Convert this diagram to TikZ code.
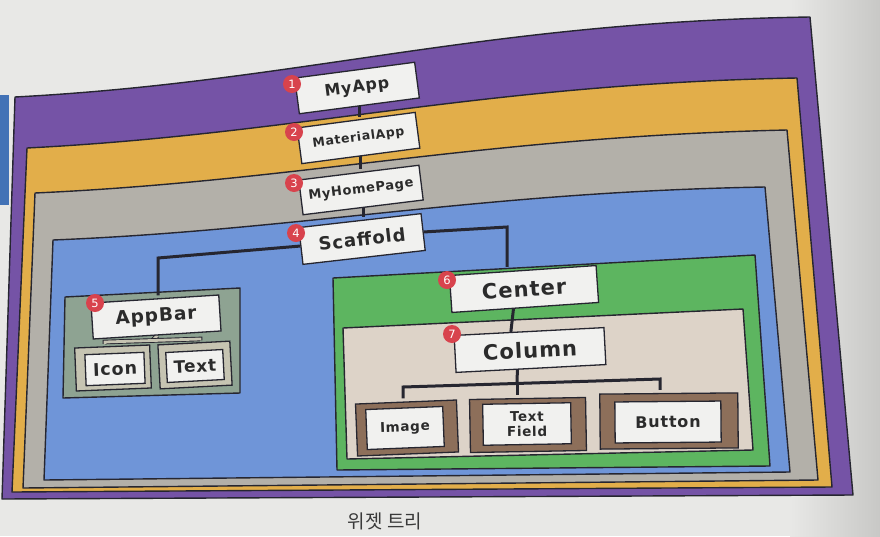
\documentclass[tikz,border=0pt]{standalone}
\usepackage{fontspec}
\setmainfont{DejaVu Sans}
\newfontfamily\lab{DejaVu Sans}[LetterSpace=5]
\newfontfamily\kr{Noto Sans CJK KR}
\usetikzlibrary{calc}
\definecolor{page}{HTML}{E8E8E6}
\definecolor{pageR}{HTML}{C8C8C6}
\definecolor{stripC}{HTML}{4272B6}
\definecolor{purpleC}{HTML}{7553A6}
\definecolor{orangeC}{HTML}{E2AE4A}
\definecolor{grayC}{HTML}{B3B0A9}
\definecolor{blueC}{HTML}{6F95D8}
\definecolor{greenC}{HTML}{5DB560}
\definecolor{beigeC}{HTML}{DDD3C8}
\definecolor{abC}{HTML}{8EA392}
\definecolor{khaki}{HTML}{C6C4B2}
\definecolor{brownC}{HTML}{8D6F5A}
\definecolor{boxw}{HTML}{F1F1EF}
\definecolor{edge}{HTML}{262630}
\definecolor{badgeC}{HTML}{D8434D}
\definecolor{txt}{HTML}{2B2B2B}
\definecolor{capC}{HTML}{3A3A3A}
\pgfdeclarelayer{back}
\pgfdeclarelayer{mid}
\pgfsetlayers{back,mid,main}
\begin{document}
\begin{tikzpicture}[x=1pt,y=-1pt,
  cont/.style={draw=edge, line width=1.4pt, line join=round},
  wbox/.style={draw=edge, fill=boxw, line width=1.3pt, inner sep=0pt, text=txt},
  frame/.style={draw=edge, line width=1.3pt, inner sep=0pt},
  fs/.style={font=\lab\bfseries\fontsize{#1}{#1}\selectfont},
  badge/.style={circle, fill=badgeC, text=white, inner sep=0pt, minimum size=18pt, font=\lab\fontsize{11.5}{11.5}\selectfont},
  conn/.style={draw=edge, line width=3pt},
  rail/.style={draw=edge, line width=0.9pt, double=khaki, double distance=2.8pt}]
\useasboundingbox (0,0) rectangle (880,536);
\begin{pgfonlayer}{back}
\fill[page] (0,0) rectangle (880,536);
\shade[left color=page, right color=pageR] (790,0) rectangle (880,536);
\fill[stripC] (0,95) rectangle (9,205);
% containers
\filldraw[cont, fill=purpleC] (15,97) .. controls (300,82) and (480,22) .. (810,17) -- (853,495) -- (2,499) -- cycle;
\filldraw[cont, fill=orangeC] (27,148) .. controls (300,134) and (480,84) .. (797,78) -- (832,487) -- (12,492) -- cycle;
\filldraw[cont, fill=grayC] (35,193) .. controls (300,181) and (480,137) .. (787,130) -- (818,480) -- (23,488) -- cycle;
\filldraw[cont, fill=blueC] (53,240) .. controls (300,230) and (480,192) .. (765,187) -- (790,472) -- (44,480) -- cycle;
\filldraw[cont, fill=abC] (65,297) -- (240,288) -- (240,393) -- (63,398) -- cycle;
\filldraw[cont, fill=greenC] (333,278) -- (755,255) -- (770,466) -- (337,470) -- cycle;
\filldraw[cont, fill=beigeC] (343,328) -- (743,309) -- (753,450) -- (347,459) -- cycle;
\end{pgfonlayer}

% main tree nodes
\node[wbox, rotate=7.5, minimum width=121pt, minimum height=36pt, fs=16] (myapp) at (357,88) {MyApp};
\node[wbox, rotate=7.5, minimum width=119pt, minimum height=36pt, fs=12.5] (mat) at (358.5,138) {MaterialApp};
\node[wbox, rotate=7, minimum width=121pt, minimum height=35pt, fs=13] (home) at (361,190) {MyHomePage};
\node[wbox, rotate=6.5, minimum width=123pt, minimum height=37pt, fs=18] (scaff) at (362,239) {Scaffold};
\node[wbox, rotate=3.6, minimum width=128pt, minimum height=36pt, fs=18.5] (abar) at (156,317) {AppBar};
\node[wbox, rotate=3.9, minimum width=147pt, minimum height=37pt, fs=21] (cen) at (524,289) {Center};
\node[wbox, rotate=3, minimum width=150pt, minimum height=37pt, fs=21] (col) at (530,350) {Column};

% AppBar children
\node[frame, fill=khaki, rotate=2.3, minimum width=75pt, minimum height=43pt] (icnF) at (113,368) {};
\node[wbox, rotate=2.3, minimum width=59pt, minimum height=31pt, fs=17.5] (icn) at (115,369) {Icon};
\node[frame, fill=khaki, rotate=3, minimum width=72pt, minimum height=44pt] (txtF) at (195,365) {};
\node[wbox, rotate=3, minimum width=57pt, minimum height=30pt, fs=17] (txtn) at (195,366) {Text};

% Column children
\node[frame, fill=brownC, rotate=2.3, minimum width=101pt, minimum height=52pt] (imgF) at (407,428) {};
\node[wbox, rotate=2.3, minimum width=77pt, minimum height=40pt, fs=13.5] (img) at (405,428) {Image};
\node[frame, fill=brownC, rotate=1, minimum width=116pt, minimum height=53pt] (tfF) at (528,425) {};
\node[wbox, rotate=1, minimum width=88pt, minimum height=41pt, align=center, font=\lab\bfseries\fontsize{13.5}{15}\selectfont] (tf) at (527,424) {Text\\Field};
\node[frame, fill=brownC, rotate=0.5, minimum width=138pt, minimum height=55pt] (btnF) at (669,421) {};
\node[wbox, rotate=0.5, minimum width=106pt, minimum height=41pt, fs=16] (btn) at (668,422) {Button};

% badges
\node[badge] (n1) at (292,84) {1};
\node[badge] (n2) at (294,132) {2};
\node[badge] (n3) at (294,183) {3};
\node[badge] (n4) at (296,233) {4};
\node[badge] (n5) at (95,303) {5};
\node[badge] (n6) at (447,280) {6};
\node[badge] (n7) at (452,334) {7};

% connectors
\coordinate (kL) at (158,258);
\coordinate (kR) at (507,227);
\coordinate (cb1) at (403,387);
\coordinate (cb2) at (517,383);
\coordinate (cb3) at (660,379);
\coordinate (a1) at (105,342);
\coordinate (a2) at (200,339);
\begin{pgfonlayer}{mid}
\draw[conn] (myapp.south) -- ([yshift=3pt]myapp.south |- mat.north);
\draw[conn] (mat.south) -- ([yshift=3pt]mat.south |- home.north);
\draw[conn] (home.south) -- ([yshift=3pt]home.south |- scaff.north);
\draw[conn] (scaff.west) -- (kL) -- ([yshift=3pt]kL |- abar.north);
\draw[conn] (scaff.east) -- (kR) -- ([yshift=3pt]kR |- cen.north);
\draw[conn] ($(cen.south west)!0.42!(cen.south east)$) -- ($(col.north west)!0.38!(col.north east)$);
\draw[conn] ($(col.south west)!0.41!(col.south east)$) -- (cb2);
\draw[conn] ([yshift=3pt]cb1 |- imgF.north) -- (cb1) -- (cb3) -- ([yshift=3pt]cb3 |- btnF.north);
\draw[conn] (cb2) -- ([yshift=3pt]cb2 |- tfF.north);
\draw[rail] (abar.south) -- ($(a1)!0.5!(a2)$);
\draw[rail] ([yshift=2pt]a1 |- icnF.north) -- (a1) -- (a2) -- ([yshift=2pt]a2 |- txtF.north);
\end{pgfonlayer}

% caption
\node[font=\kr\fontsize{19}{19}\selectfont, text=capC] (cap) at (385,521) {위젯 트리};
\end{tikzpicture}
\end{document}
